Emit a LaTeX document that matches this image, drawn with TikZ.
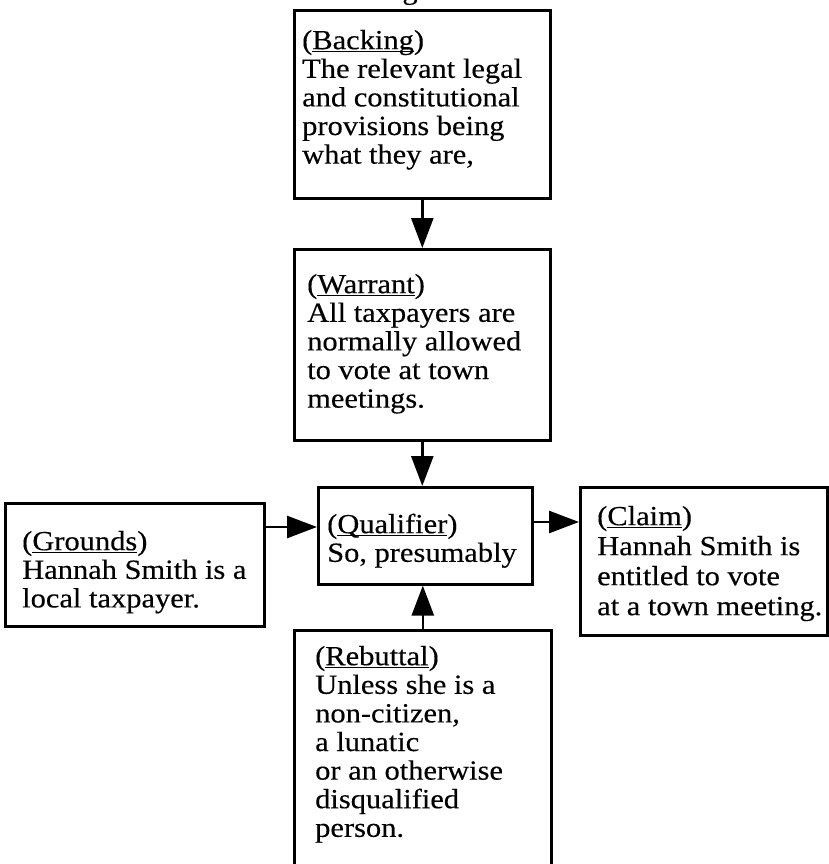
\documentclass[tikz,border=0pt]{standalone}
\usepackage{fontspec}
\setmainfont{Liberation Serif}[FakeStretch=1.1,FakeBold=0.3]
\usetikzlibrary{arrows.meta}

% underlined heading word, rule close to the baseline
\newcommand\ulabel[1]{\setbox0=\hbox{#1}\rlap{\rule[-3pt]{\wd0}{1.3pt}}\box0}
% fixed first-line height so the first baseline sits 22pt below the node top
\newcommand\firstline{\rule{0pt}{22pt}}

\tikzset{
  argbox/.style={draw, line width=2.6pt, inner sep=0pt, anchor=north west},
  argtext/.style={anchor=north west, inner sep=0pt, align=left,
                  font=\fontsize{27.7}{28.6}\selectfont},
  conn/.style={line width=2.6pt, -{Triangle[length=30pt,width=22pt]}},
}

\begin{document}
\begin{tikzpicture}[x=1pt,y=-1pt]
\useasboundingbox (0,0) rectangle (828,864);

% tail of the caption line above the diagram
\node[anchor=base, inner sep=0pt, font=\fontsize{27.7}{28.6}\selectfont] (captiontail) at (410,-1) {g};

% boxes
\node[argbox, minimum width=256pt, minimum height=188pt] (backing)   at (293,9)   {};
\node[argbox, minimum width=256pt, minimum height=191pt] (warrant)   at (293,248) {};
\node[argbox, minimum width=214pt, minimum height=97pt]  (qualifier) at (317,486) {};
\node[argbox, minimum width=259pt, minimum height=123pt] (grounds)   at (4,502)   {};
\node[argbox, minimum width=247pt, minimum height=148pt] (claim)     at (579,486) {};
\node[argbox, minimum width=257pt, minimum height=300pt] (rebuttal)  at (293,629) {};

% texts
\node[argtext] (backingtxt) at (302,27) {\firstline(\ulabel{Backing})\\The relevant legal\\and constitutional\\provisions being\\what they are,};
\node[argtext] (warranttxt) at (307,271) {\firstline(\ulabel{Warrant})\\All taxpayers are\\normally allowed\\to vote at town\\meetings.};
\node[argtext] (qualifiertxt) at (327,511) {\firstline(\ulabel{Qualifier})\\So, presumably};
\node[argtext] (groundstxt) at (22,528) {\firstline(\ulabel{Grounds})\\Hannah Smith is a\\local taxpayer.};
\node[argtext, font=\fontsize{27.7}{30}\selectfont] (claimtxt) at (597,503) {\firstline(\ulabel{Claim})\\Hannah Smith is\\entitled to vote\\at a town meeting.};
\node[argtext] (rebuttaltxt) at (315,643) {\firstline(\ulabel{Rebuttal})\\Unless she is a\\non-citizen,\\a lunatic\\or an otherwise\\disqualified\\person.};

% connectors
\draw[conn] (backing.south) -- (warrant.north);
\draw[conn] (warrant.south) -- (warrant.south |- qualifier.north);
\draw[conn] (rebuttal.north) -- (rebuttal.north |- qualifier.south);
\draw[conn] ([yshift=-25pt]grounds.north east) -- ([yshift=-25pt]grounds.north east -| qualifier.west);
\draw[conn] ([yshift=-36pt]qualifier.north east) -- ([yshift=-36pt]qualifier.north east -| claim.west);
\end{tikzpicture}
\end{document}
